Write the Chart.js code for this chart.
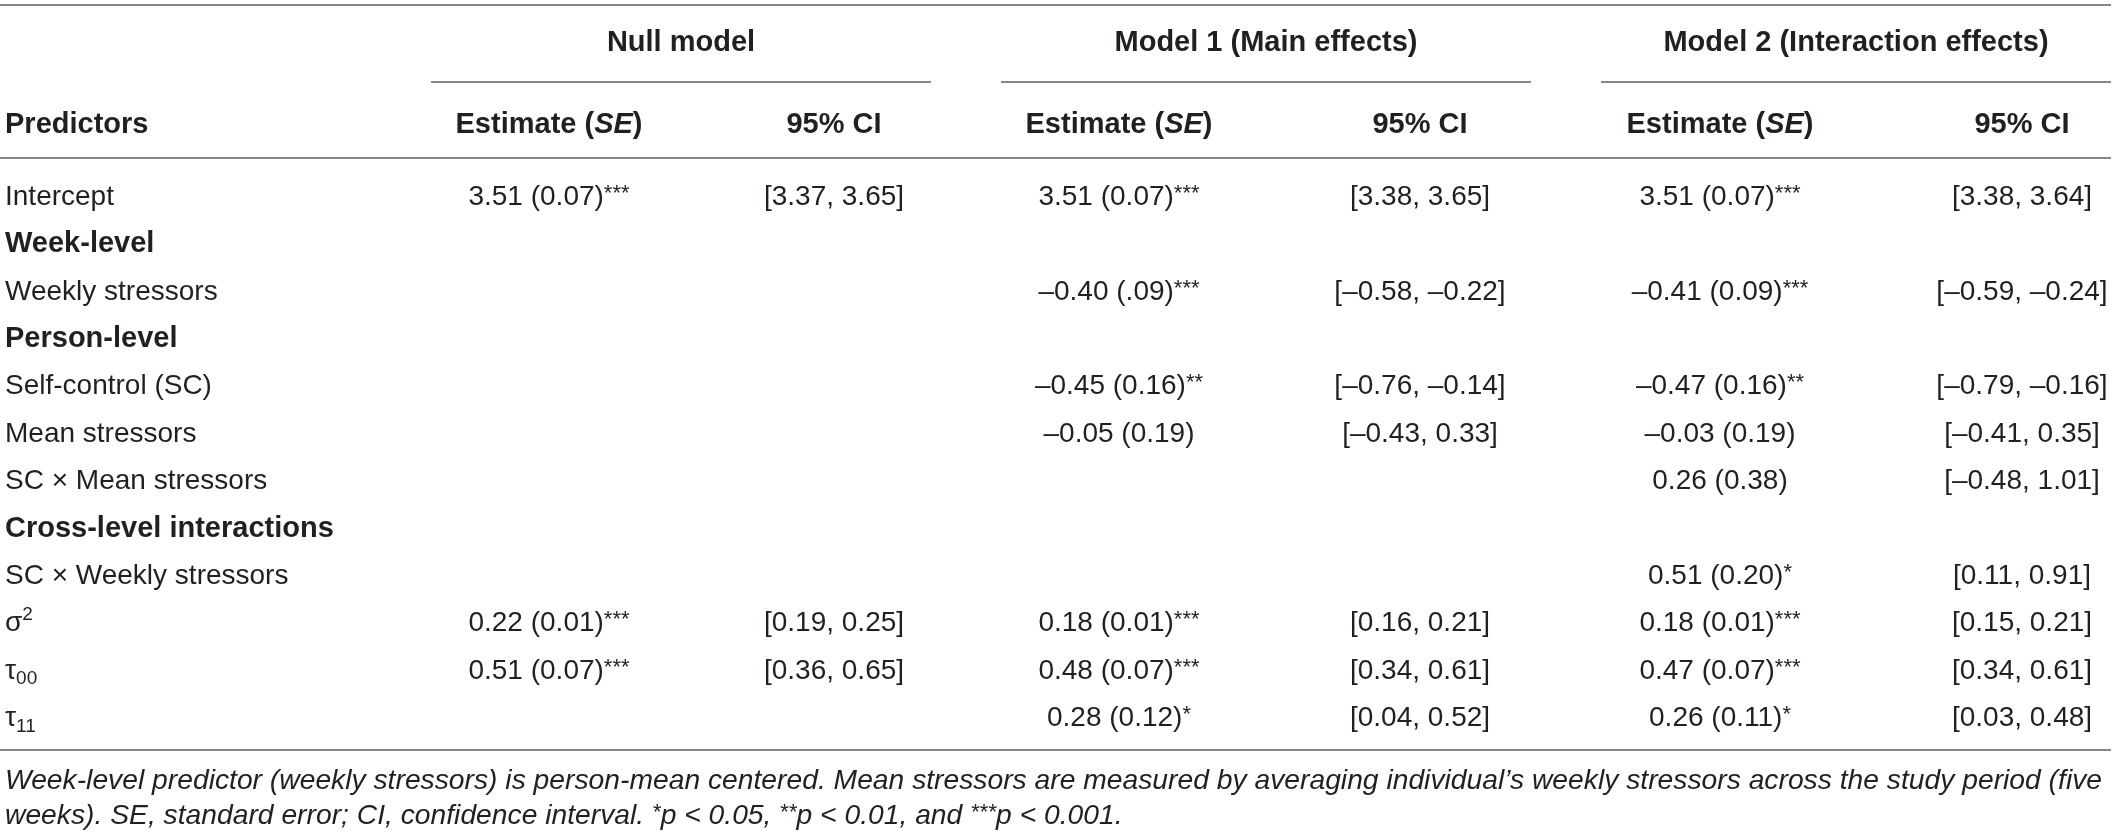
<!DOCTYPE html>
<html>
<head>
<meta charset="utf-8">
<script src="https://cdn.jsdelivr.net/npm/chart.js@4.4.0/dist/chart.umd.min.js"></script>
<style>
  html, body { margin: 0; padding: 0; background: #fff; }
  canvas { display: block; }
</style>
</head>
<body>
<canvas id="modelTable" width="2117" height="836"></canvas>
<script>
// Table data
const rowLabels = ['Intercept', 'Week-level', 'Weekly stressors', 'Person-level', 'Self-control (SC)',
    'Mean stressors', 'SC \u00d7 Mean stressors', 'Cross-level interactions', 'SC \u00d7 Weekly stressors',
    '\u03c3^2', '\u03c4_00', '\u03c4_11'];
const groupRows = ['Week-level', 'Person-level', 'Cross-level interactions'];

const modelNames = ['Null model', 'Model 1 (Main effects)', 'Model 2 (Interaction effects)'];
const subHeaders = ['Estimate (SE)', '95% CI'];

const nullEst = ['3.51 (0.07)***', null, null, null, null, null, null, null, null,
    '0.22 (0.01)***', '0.51 (0.07)***', null];
const nullCI = ['[3.37, 3.65]', null, null, null, null, null, null, null, null,
    '[0.19, 0.25]', '[0.36, 0.65]', null];
const m1Est = ['3.51 (0.07)***', null, '\u20130.40 (.09)***', null, '\u20130.45 (0.16)**', '\u20130.05 (0.19)',
    null, null, null, '0.18 (0.01)***', '0.48 (0.07)***', '0.28 (0.12)*'];
const m1CI = ['[3.38, 3.65]', null, '[\u20130.58, \u20130.22]', null, '[\u20130.76, \u20130.14]', '[\u20130.43, 0.33]',
    null, null, null, '[0.16, 0.21]', '[0.34, 0.61]', '[0.04, 0.52]'];
const m2Est = ['3.51 (0.07)***', null, '\u20130.41 (0.09)***', null, '\u20130.47 (0.16)**', '\u20130.03 (0.19)',
    '0.26 (0.38)', null, '0.51 (0.20)*', '0.18 (0.01)***', '0.47 (0.07)***', '0.26 (0.11)*'];
const m2CI = ['[3.38, 3.64]', null, '[\u20130.59, \u20130.24]', null, '[\u20130.79, \u20130.16]', '[\u20130.41, 0.35]',
    '[\u20130.48, 1.01]', null, '[0.11, 0.91]', '[0.15, 0.21]', '[0.34, 0.61]', '[0.03, 0.48]'];

const footLines = [
    'Week-level predictor (weekly stressors) is person-mean centered. Mean stressors are measured by averaging individual\u2019s weekly stressors across the study period (five',
    'weeks). SE, standard error; CI, confidence interval. *p < 0.05, **p < 0.01, and ***p < 0.001.'
];

// Layout (x in px units of the linear scale)
const colX = [5, 549, 834, 1119, 1420, 1720, 2022];
const groupSpans = [[431, 931], [1001, 1531], [1601, 2111]];
const TEXT = '#231f20';
const RULE = '#868686';
const FAMILY = '"Liberation Sans", Arial, Helvetica, sans-serif';

function fontStr(size, weight, style) {
    return (style || 'normal') + ' ' + (weight || 'normal') + ' ' + size + 'px ' + FAMILY;
}

// draws text with *** as superscript, ^x superscript, _x subscript
function drawRich(ctx, str, x, baseY, align, f, sx) {
    sx = sx || 1;
    const parts = str.split(/(\*+|\^\w+|_\w+)/).filter(s => s.length);
    const pieces = parts.map(p => {
        if (p[0] === '*') return { t: p, size: Math.round(f.size * 0.78), dy: -5 };
        if (p[0] === '^') return { t: p.slice(1), size: Math.round(f.size * 0.68), dy: -0.42 * f.size };
        if (p[0] === '_') return { t: p.slice(1), size: Math.round(f.size * 0.68), dy: 0.2 * f.size };
        return { t: p, size: f.size, dy: 0 };
    });
    let total = 0;
    pieces.forEach(pc => {
        ctx.font = fontStr(pc.size, f.weight, f.style);
        pc.w = ctx.measureText(pc.t).width * sx;
        total += pc.w;
    });
    let cx = align === 'center' ? x - total / 2 : (align === 'right' ? x - total : x);
    ctx.textAlign = 'left';
    ctx.textBaseline = 'alphabetic';
    pieces.forEach(pc => {
        ctx.font = fontStr(pc.size, f.weight, f.style);
        ctx.save();
        ctx.translate(cx, baseY + pc.dy);
        ctx.scale(sx, 1);
        ctx.fillText(pc.t, 0, 0);
        ctx.restore();
        cx += pc.w;
    });
    return total;
}

function rule(ctx, x1, x2, y) {
    ctx.beginPath();
    ctx.moveTo(x1, y);
    ctx.lineTo(x2, y);
    ctx.stroke();
}

const tablePlugin = {
    id: 'tableText',
    afterDatasetsDraw(chart) {
        const ctx = chart.ctx;
        const xs = chart.scales.x;
        ctx.save();
        ctx.fillStyle = TEXT;
        ctx.strokeStyle = RULE;
        ctx.lineWidth = 2;

        // horizontal rules
        rule(ctx, 0, xs.getPixelForValue(2111), 5);
        groupSpans.forEach(s => rule(ctx, xs.getPixelForValue(s[0]), xs.getPixelForValue(s[1]), 82));
        rule(ctx, 0, xs.getPixelForValue(2111), 158);
        rule(ctx, 0, xs.getPixelForValue(2111), 750);

        // model headers
        modelNames.forEach((name, i) => {
            const cx = xs.getPixelForValue((groupSpans[i][0] + groupSpans[i][1]) / 2);
            drawRich(ctx, name, cx, 51, 'center', { size: 29, weight: 'bold' });
        });

        // sub headers
        drawRich(ctx, 'Predictors', xs.getPixelForValue(colX[0]), 133, 'left', { size: 29, weight: 'bold' });
        for (let g = 0; g < 3; g++) {
            const estX = xs.getPixelForValue(colX[1 + g * 2]);
            const ciX = xs.getPixelForValue(colX[2 + g * 2]);
            // "Estimate (SE)" with SE in italic
            const segs = [['Estimate (', 'normal'], ['SE', 'italic'], [')', 'normal']];
            let w = 0;
            segs.forEach(s => { ctx.font = fontStr(29, 'bold', s[1]); w += ctx.measureText(s[0]).width; });
            let sx0 = estX - w / 2;
            ctx.textAlign = 'left';
            ctx.textBaseline = 'alphabetic';
            segs.forEach(s => {
                ctx.font = fontStr(29, 'bold', s[1]);
                ctx.fillText(s[0], sx0, 133);
                sx0 += ctx.measureText(s[0]).width;
            });
            drawRich(ctx, subHeaders[1], ciX, 133, 'center', { size: 29, weight: 'bold' });
        }

        // cells, positioned by the scales through the dataset elements
        chart.data.datasets.forEach((ds, di) => {
            const meta = chart.getDatasetMeta(di);
            meta.data.forEach((pt, i) => {
                const item = ds.data[i];
                const bold = ds.isLabel && groupRows.includes(item.text);
                const f = bold ? { size: 29, weight: 'bold' } : { size: 28 };
                drawRich(ctx, item.text, pt.x, pt.y + 10, ds.align, f);
            });
        });

        // footnote
        ctx.font = fontStr(28, 'normal', 'italic');
        const fw = ctx.measureText(footLines[0].replace(/\*/g, '')).width;
        const sx = 2097 / fw;
        drawRich(ctx, footLines[0], 5, 789, 'left', { size: 28, style: 'italic' }, sx);
        drawRich(ctx, footLines[1], 5, 824, 'left', { size: 28, style: 'italic' }, sx);
        ctx.restore();
    }
};

function cellData(values, x) {
    const pts = [];
    values.forEach((v, i) => {
        if (v !== null) pts.push({ x: x, y: rowLabels[i], text: v });
    });
    return pts;
}

const columns = [nullEst, nullCI, m1Est, m1CI, m2Est, m2CI];
const datasets = [{
    label: 'Predictors',
    data: cellData(rowLabels, colX[0]),
    align: 'left',
    isLabel: true,
    pointRadius: 0
}];
columns.forEach((col, c) => {
    datasets.push({
        label: modelNames[Math.floor(c / 2)] + ' ' + subHeaders[c % 2],
        data: cellData(col, colX[c + 1]),
        align: 'center',
        pointRadius: 0
    });
});

new Chart(document.getElementById('modelTable'), {
    type: 'scatter',
    data: { datasets: datasets },
    options: {
        responsive: false,
        animation: false,
        devicePixelRatio: 1,
        layout: { padding: { top: 195, bottom: 120, left: 0, right: 0 } },
        plugins: {
            legend: { display: false },
            tooltip: { enabled: false }
        },
        scales: {
            x: { type: 'linear', min: 0, max: 2117, display: false },
            y: { type: 'category', labels: rowLabels, offset: false, display: false }
        }
    },
    plugins: [tablePlugin]
});
</script>
</body>
</html>
